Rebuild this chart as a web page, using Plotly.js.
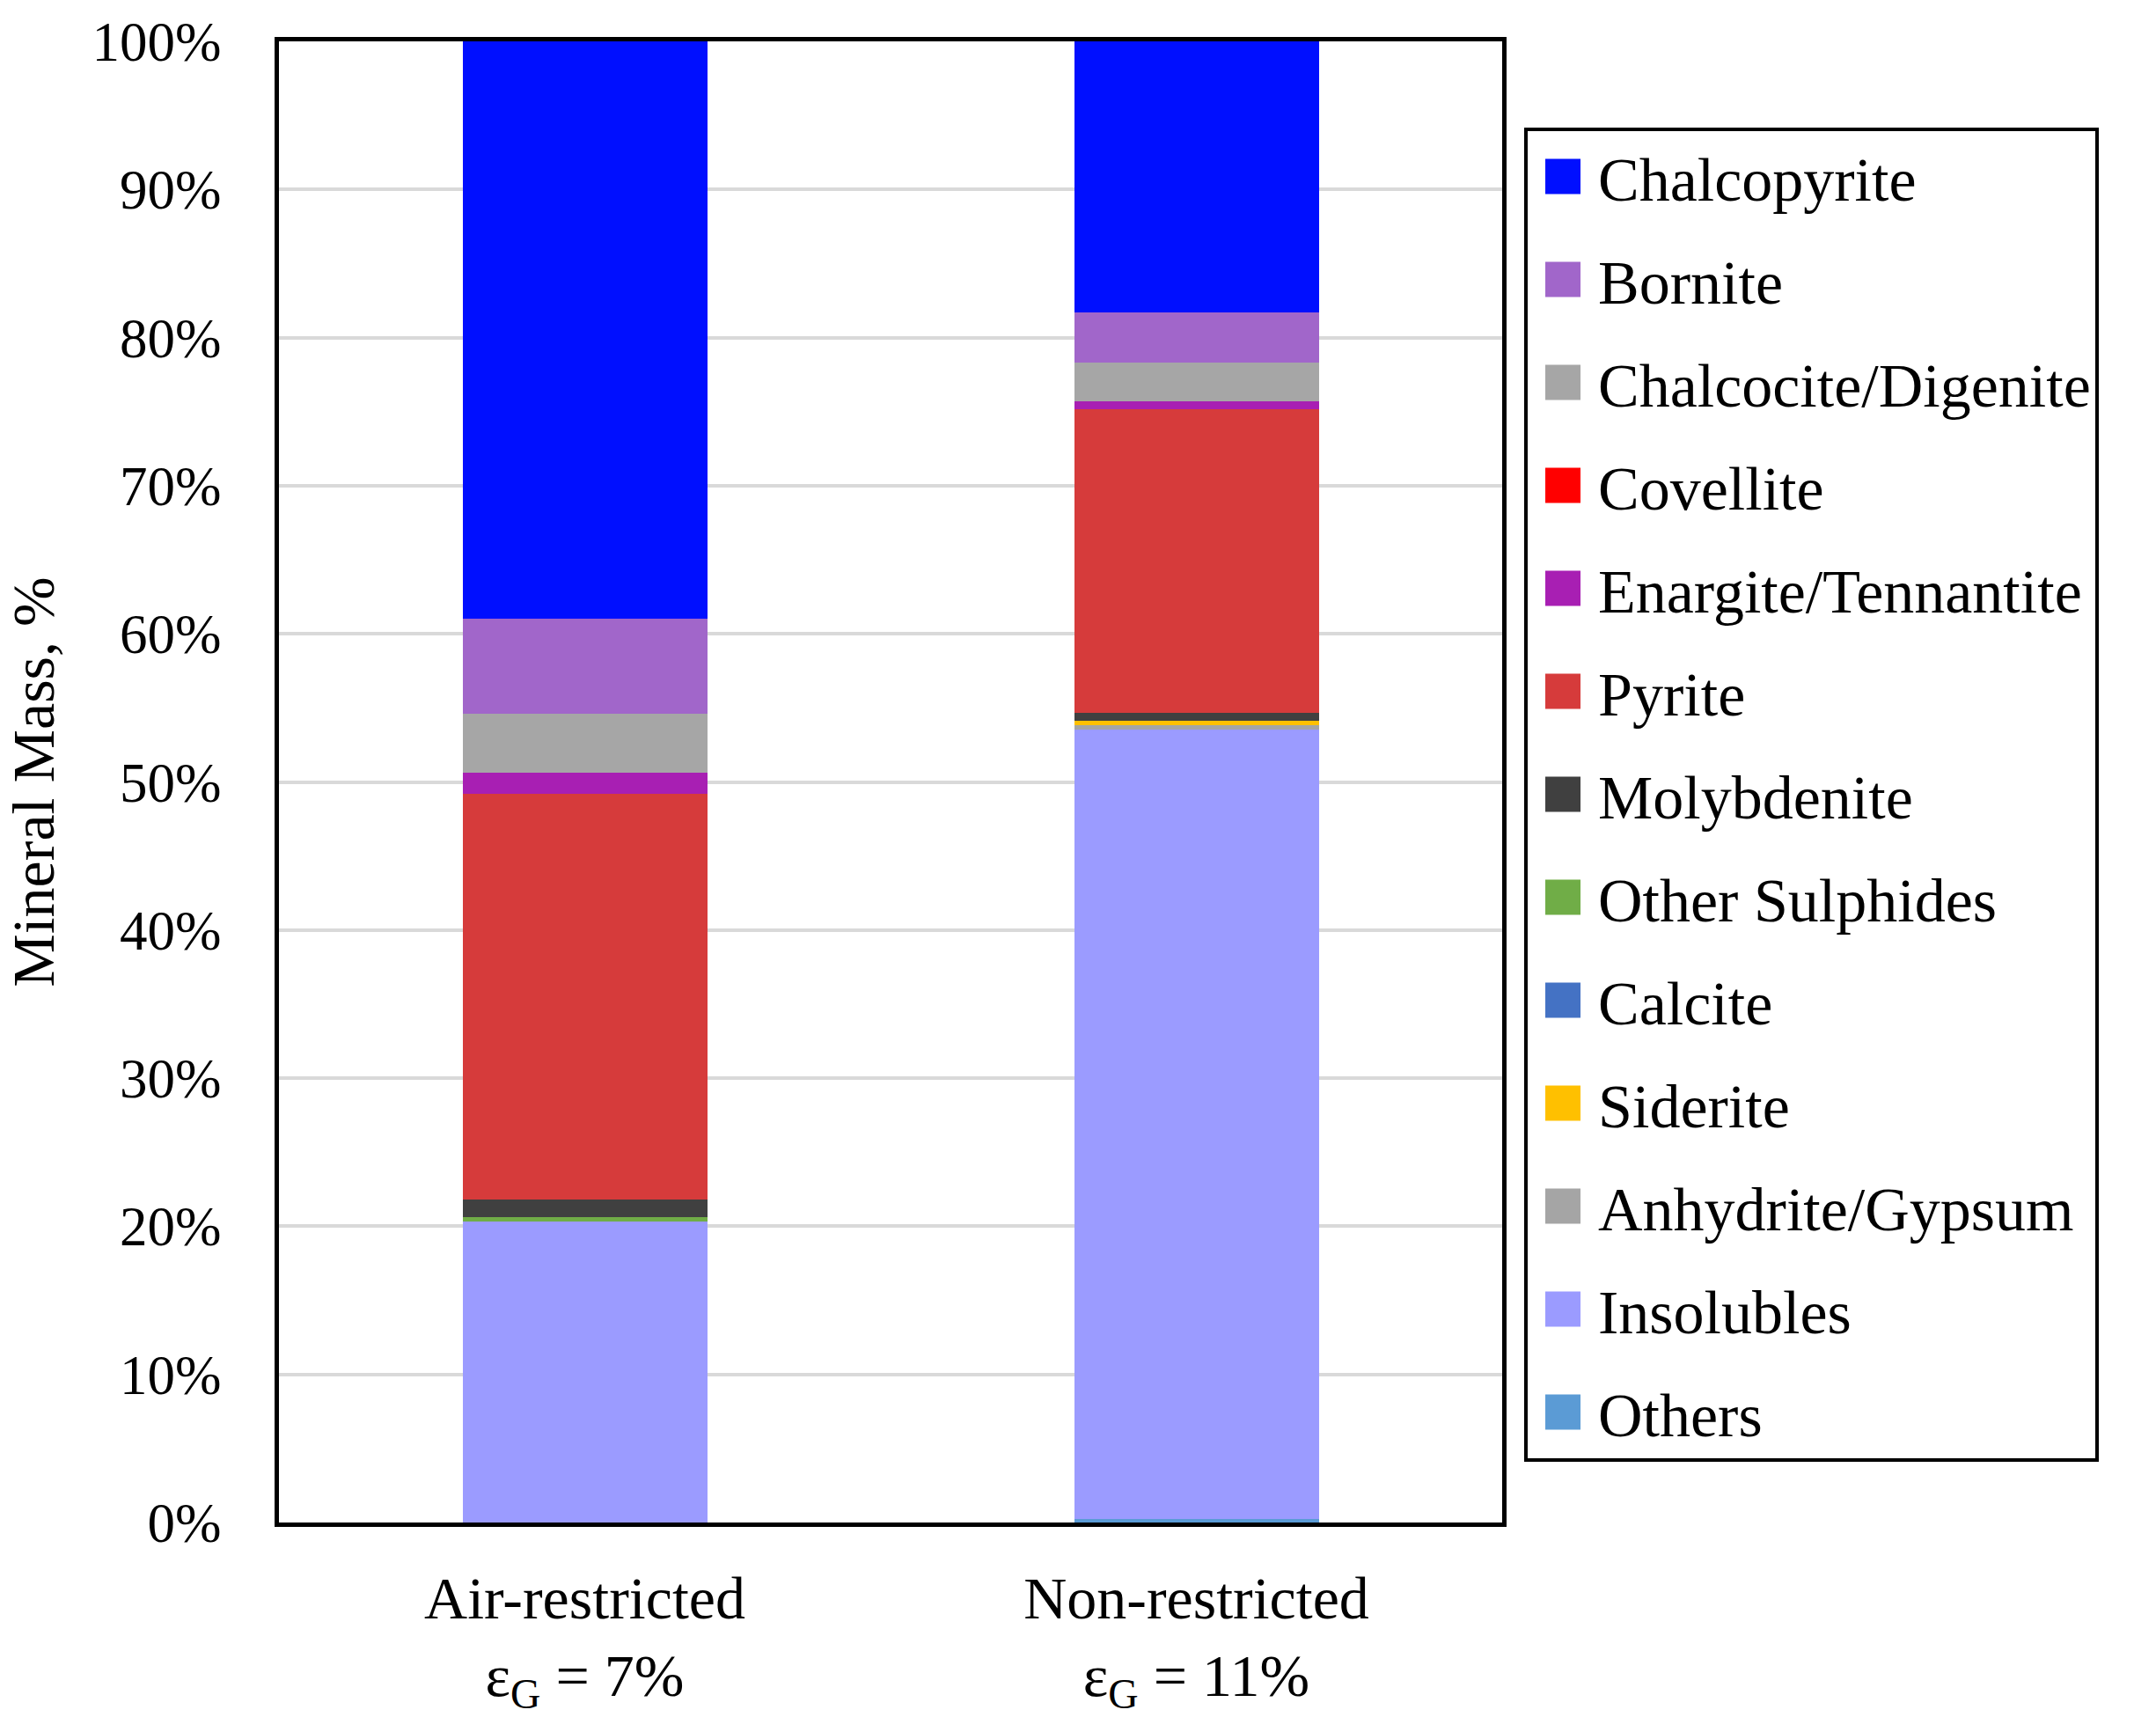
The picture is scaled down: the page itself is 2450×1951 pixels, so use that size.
<!DOCTYPE html>
<html>
<head>
<meta charset="utf-8">
<script src="https://cdn.plot.ly/plotly-3.0.1.min.js"></script>
<style>
  html, body { margin: 0; padding: 0; background: #fff; }
  #chart { width: 2450px; height: 1951px; }
</style>
</head>
<body>
<div id="chart"></div>
<script>
// Mineral mass distribution, %
const categories = ['Air-restricted<br>ε<sub>G</sub> = 7%', 'Non-restricted<br>ε<sub>G</sub> = 11%'];

// stacked bottom -> top
const minerals = ['Others', 'Insolubles', 'Anhydrite/Gypsum', 'Siderite', 'Calcite', 'Other Sulphides',
    'Molybdenite', 'Pyrite', 'Enargite/Tennantite', 'Covellite', 'Chalcocite/Digenite', 'Bornite', 'Chalcopyrite'];

const others = [0.0, 0.25];
const insolubles = [20.3, 53.3];
const anhydrite = [0.0, 0.3];
const siderite = [0.0, 0.3];
const calcite = [0.0, 0.0];
const otherSulphides = [0.3, 0.0];
const molybdenite = [1.2, 0.5];
const pyrite = [27.4, 20.5];
const enargite = [1.4, 0.55];
const covellite = [0.0, 0.0];
const chalcocite = [4.0, 2.6];
const bornite = [6.4, 3.4];
const chalcopyrite = [39.0, 18.3];

const seriesValues = [others, insolubles, anhydrite, siderite, calcite, otherSulphides,
    molybdenite, pyrite, enargite, covellite, chalcocite, bornite, chalcopyrite];

const colors = ['#5B9BD5', '#9B9BFF', '#A5A5A5', '#FFC000', '#4472C4', '#70AD47',
    '#404040', '#D63B3B', '#A81FB3', '#FF0000', '#A6A6A6', '#A166CA', '#000FFF'];

const FONT = '"Liberation Serif", "DejaVu Serif", serif';

// top segment first in the legend
const traces = minerals.map((name, i) => ({
    type: 'bar',
    name: name,
    x: categories,
    y: seriesValues[i],
    legendgroup: name,
    legendrank: 1000 - i,
    marker: { color: colors[i], line: { width: 0 } },
    width: 0.4
}));

const layout = {
    width: 2450,
    height: 1951,
    barmode: 'stack',
    paper_bgcolor: '#FFFFFF',
    plot_bgcolor: '#FFFFFF',
    font: { family: FONT, size: 62, color: '#000' },
    margin: { l: 317, r: 743, t: 47, b: 221, autoexpand: false },
    xaxis: {
        type: 'category',
        range: [-0.5, 1.5],
        showline: true,
        mirror: true,
        linecolor: '#000',
        linewidth: 5,
        showgrid: false,
        ticks: '',
        ticklabelstandoff: 22,
        tickfont: { family: FONT, size: 68, color: '#000' }
    },
    yaxis: {
        range: [0, 100],
        dtick: 10,
        ticksuffix: '%',
        showline: true,
        mirror: true,
        linecolor: '#000',
        linewidth: 5,
        gridcolor: '#D9D9D9',
        gridwidth: 4,
        zeroline: false,
        ticks: '',
        ticklabelstandoff: 48,
        tickfont: { family: FONT, size: 63, color: '#000' },
        title: { text: 'Mineral Mass, %', font: { family: FONT, size: 68, color: '#000' }, standoff: 30 }
    },
    showlegend: true,
    legend: {
        x: 1.018,
        xanchor: 'left',
        y: 0.942,
        yanchor: 'top',
        traceorder: 'grouped',
        tracegroupgap: 23,
        itemwidth: 70,
        bgcolor: '#FFFFFF',
        bordercolor: '#000',
        borderwidth: 4,
        font: { family: FONT, size: 70, color: '#000' }
    }
};

const config = { staticPlot: true, displayModeBar: false };

Plotly.newPlot('chart', traces, layout, config).then(() => {
    // legend swatches: 40px squares ending 20px before the label, as in the original
    document.querySelectorAll('#chart .legend .traces').forEach(item => {
        const path = item.querySelector('.legendpoints path');
        const label = item.querySelector('text.legendtext');
        if (!path || !label) return;
        const pr = path.getBoundingClientRect();
        const tr = label.getBoundingClientRect();
        const dx = (tr.left - 40) - (pr.left + pr.right) / 2;
        path.setAttribute('d', `M${dx + 20},20H${dx - 20}V-20H${dx + 20}Z`);
    });
});
</script>
</body>
</html>
